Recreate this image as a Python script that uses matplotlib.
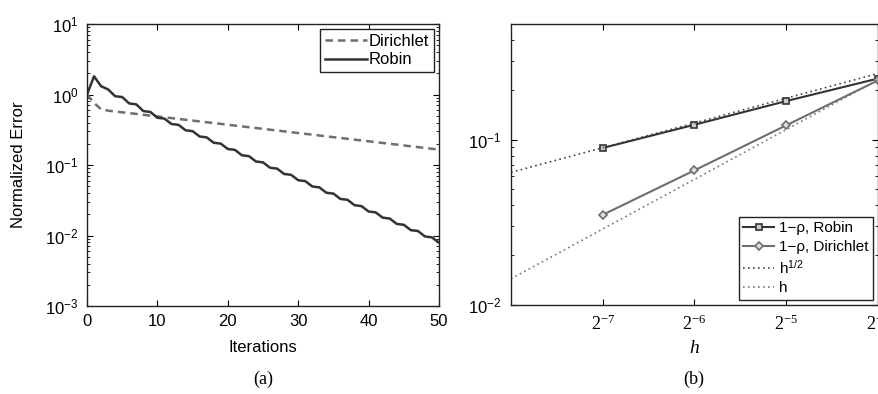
import matplotlib
matplotlib.use("Agg")
import matplotlib.pyplot as plt
from matplotlib.ticker import NullLocator, NullFormatter, LogLocator

plt.rcParams["font.family"] = ["Liberation Sans", "DejaVu Sans"]
plt.rcParams["mathtext.fontset"] = "custom"
plt.rcParams["mathtext.rm"] = "Liberation Sans"
plt.rcParams["mathtext.it"] = "Liberation Sans:italic"
plt.rcParams["mathtext.default"] = "regular"

# (a) normalized error vs iterations
iterations = list(range(51))
robin_err = [1.0, 1.81, 1.31, 1.18, 0.946, 0.92, 0.746, 0.725, 0.582, 0.566,
             0.468, 0.455, 0.3815, 0.371, 0.311, 0.302, 0.2536, 0.2465, 0.2068, 0.201,
             0.1687, 0.164, 0.1375, 0.1336, 0.1121, 0.109, 0.0915, 0.0889, 0.0746, 0.0725,
             0.0608, 0.0591, 0.0496, 0.0482, 0.0404, 0.0393, 0.033, 0.0321, 0.0269, 0.0261,
             0.0219, 0.0213, 0.0179, 0.0174, 0.0146, 0.0142, 0.0119, 0.0116, 0.0097, 0.0094,
             0.0079]
dirichlet_err = [1.0, 0.76, 0.615, 0.590, 0.574, 0.559, 0.544, 0.530, 0.516, 0.502,
                 0.488, 0.475, 0.4625, 0.450, 0.438, 0.4266, 0.415, 0.404, 0.3934, 0.383,
                 0.3726, 0.3627, 0.353, 0.3436, 0.3344, 0.3255, 0.3168, 0.3083, 0.300, 0.292,
                 0.2842, 0.2767, 0.2693, 0.2621, 0.2551, 0.2483, 0.2416, 0.2352, 0.2289, 0.2228,
                 0.2169, 0.2111, 0.2054, 0.200, 0.1946, 0.1894, 0.1843, 0.1795, 0.1747, 0.170,
                 0.1655]

# (b) 1 - rho vs h
h_vals = [2**-7, 2**-6, 2**-5, 2**-4]
h_labels = [r"$2^{-7}$", r"$2^{-6}$", r"$2^{-5}$", r"$2^{-4}$"]
rho_robin = [0.089, 0.123, 0.171, 0.234]
rho_dirichlet = [0.0351, 0.0652, 0.122, 0.228]
h_ref = [2**-8, 2**-7, 2**-6, 2**-5, 2**-4]
ref_sqrt = [0.0634, 0.0893, 0.126, 0.178, 0.251]
ref_lin = [0.0144, 0.0288, 0.0575, 0.115, 0.23]

dark = "#333333"
grey = "#6e6e6e"

fig = plt.figure(figsize=(8.79, 3.94), dpi=100)
ax1 = fig.add_axes([87/879, 1-306/394, 352/879, 282/394])
ax2 = fig.add_axes([511/879, 1-305/394, 367/879, 281/394])

for ax in (ax1, ax2):
    ax.tick_params(which="both", direction="in", top=True, right=True, labelsize=12)
    ax.tick_params(which="major", length=4, width=0.8)
    ax.tick_params(which="minor", length=2, width=0.6)
    for s in ax.spines.values():
        s.set_linewidth(1.0)
        s.set_color("#222222")

# panel (a)
ax1.semilogy(iterations, dirichlet_err, color=grey, lw=1.8, ls=(0, (3, 2)), label="Dirichlet")
ax1.semilogy(iterations, robin_err, color=dark, lw=1.8, label="Robin")
ax1.set_xlim(0, 50)
ax1.set_ylim(1e-3, 1e1)
ax1.set_xticks([0, 10, 20, 30, 40, 50])
ax1.yaxis.set_minor_locator(LogLocator(base=10, subs=range(2, 10), numticks=20))
ax1.yaxis.set_minor_formatter(NullFormatter())
ax1.tick_params(axis="x", pad=6)
ax1.tick_params(axis="y", pad=6)
ax1.set_xlabel("Iterations", fontsize=12, labelpad=8)
ax1.set_ylabel("Normalized Error", fontsize=12)
ax1.yaxis.set_label_coords(-0.172, 0.5)
leg1 = ax1.legend(loc="upper right", fontsize=12, handlelength=2.5, handletextpad=0.1,
                  labelspacing=0.2, borderpad=0.3, borderaxespad=0.3,
                  fancybox=False, framealpha=1)
leg1.get_frame().set_edgecolor("#222222")
leg1.get_frame().set_linewidth(1.0)

# panel (b)
ax2.set_xscale("log", base=2)
ax2.set_yscale("log")
ax2.plot(h_vals, rho_robin, color=dark, lw=1.5, marker="s", ms=4.5,
         mfc="#cccccc", mec=dark, mew=1.2, label="1\u2212\u03c1, Robin")
ax2.plot(h_vals, rho_dirichlet, color=grey, lw=1.5, marker="D", ms=4.5,
         mfc="#e0e0e0", mec=grey, mew=1.2, label="1\u2212\u03c1, Dirichlet")
ax2.plot(h_ref, ref_sqrt, color="#444444", lw=1.2, ls=(0, (1, 2)), label="h$^{1/2}$")
ax2.plot(h_ref, ref_lin, color="#777777", lw=1.2, ls=(0, (1, 2)), label="h")
ax2.set_xlim(2**-8, 2**-4)
ax2.set_ylim(0.01, 0.5)
ax2.set_xticks(h_vals, h_labels, fontsize=13, family="Liberation Serif")
ax2.xaxis.set_minor_locator(NullLocator())
ax2.yaxis.set_minor_locator(LogLocator(base=10, subs=range(2, 10), numticks=20))
ax2.yaxis.set_minor_formatter(NullFormatter())
ax2.tick_params(axis="x", pad=7)
ax2.tick_params(axis="y", pad=7)
ax2.set_xlabel("h", fontsize=14, family="Liberation Serif", style="italic", labelpad=4)
leg2 = ax2.legend(loc="lower right", fontsize=11, handlelength=2.0, handletextpad=0.3,
                  labelspacing=0.3, borderpad=0.3, borderaxespad=0.35,
                  fancybox=False, framealpha=1)
leg2.get_frame().set_edgecolor("#222222")
leg2.get_frame().set_linewidth(1.0)

fig.text(263/879, 1-379/394, "(a)", ha="center", va="center", fontsize=13, family="Liberation Serif")
fig.text(694/879, 1-379/394, "(b)", ha="center", va="center", fontsize=13, family="Liberation Serif")

fig.savefig("out.png", dpi=100)
